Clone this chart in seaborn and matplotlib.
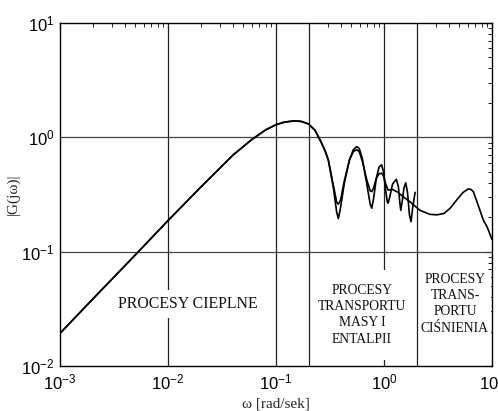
import numpy as np
import pandas as pd
import matplotlib
matplotlib.use("Agg")
import matplotlib.pyplot as plt
import seaborn as sns

# ---- data ----
# common low-frequency part (both curves coincide)
freq_common = [0.001, 0.002, 0.005, 0.01, 0.02, 0.04, 0.06, 0.08, 0.1, 0.12,
               0.145, 0.17, 0.2, 0.23, 0.26, 0.285, 0.305]
mag_common = [0.0193, 0.0383, 0.094, 0.187, 0.365, 0.70, 0.96, 1.16, 1.29, 1.36,
              1.39, 1.38, 1.31, 1.15, 0.92, 0.76, 0.634]

# strongly oscillating curve (ends near 2 rad/s)
freq_a = [0.34, 0.365, 0.378, 0.395, 0.43, 0.48, 0.52, 0.558, 0.59, 0.63, 0.69,
          0.745, 0.77, 0.80, 0.85, 0.90, 0.95, 0.99, 1.03, 1.07, 1.09, 1.13,
          1.2, 1.30, 1.36, 1.40, 1.43, 1.47, 1.53, 1.59, 1.65, 1.72, 1.78,
          1.84, 1.94]
mag_a = [0.36, 0.22, 0.195, 0.24, 0.40, 0.64, 0.78, 0.83, 0.80, 0.65, 0.40,
         0.26, 0.24, 0.29, 0.44, 0.55, 0.575, 0.50, 0.36, 0.275, 0.265, 0.30,
         0.39, 0.43, 0.37, 0.27, 0.23, 0.27, 0.36, 0.40, 0.33, 0.21, 0.183,
         0.24, 0.33]

# damped curve (continues to 10 rad/s)
freq_b = [0.34, 0.365, 0.378, 0.395, 0.43, 0.48, 0.52, 0.558, 0.59, 0.63, 0.69,
          0.745, 0.77, 0.80, 0.85, 0.90, 0.95, 0.99, 1.03, 1.09, 1.2, 1.35,
          1.50, 1.75, 2.15, 2.66, 3.1, 3.6, 4.1, 4.71, 5.4, 6.04, 6.4, 6.72,
          7.5, 8.31, 9.0, 10.0]
mag_b = [0.38, 0.27, 0.26, 0.28, 0.42, 0.64, 0.75, 0.78, 0.75, 0.62, 0.43,
         0.34, 0.335, 0.36, 0.44, 0.48, 0.485, 0.46, 0.40, 0.346, 0.35, 0.33,
         0.303, 0.272, 0.23, 0.212, 0.21, 0.216, 0.24, 0.283, 0.33, 0.354,
         0.35, 0.335, 0.25, 0.189, 0.165, 0.128]

region_labels = ["PROCESY CIEPLNE",
                 "PROCESY\nTRANSPORTU\nMASY I\nENTALPII",
                 "PROCESY\nTRANS-\nPORTU\nCIŚNIENIA"]
region_label_pos = [(0.0153, 0.0348), (0.625, 0.0281), (4.54, 0.0350)]
region_bounds = [0.2, 2.0]

df = pd.concat([
    pd.DataFrame({"w": freq_common + freq_a, "G": mag_common + mag_a, "s": "a"}),
    pd.DataFrame({"w": freq_common + freq_b, "G": mag_common + mag_b, "s": "b"}),
])

sns.set_theme(style="white")
plt.rcParams["font.family"] = ["Liberation Sans", "DejaVu Sans"]
plt.rcParams["xtick.direction"] = "in"
plt.rcParams["ytick.direction"] = "in"

fig = plt.figure(figsize=(4.98, 4.11), dpi=100)
ax = fig.add_axes([60 / 498, 1 - 366 / 411, 432 / 498, 343 / 411])

sns.lineplot(data=df, x="w", y="G", units="s", estimator=None, sort=False,
             color="black", lw=1.2, ax=ax, legend=False, zorder=3)

ax.set_xscale("log")
ax.set_yscale("log")
ax.set_xlim(1e-3, 10)
ax.set_ylim(1e-2, 10)

# grid (behind text boxes)
for gx in [1e-2, 1e-1, 1e0]:
    ax.axvline(gx, color="#222222", lw=0.9, zorder=1)
for gy in [1e-1, 1e0]:
    ax.axhline(gy, color="#444444", lw=0.9, zorder=1)
# region separators (on top)
for b in region_bounds:
    ax.axvline(b, color="#222222", lw=0.9, zorder=6)

label_styles = [dict(fontsize=11.4, pad=4.5, ls=1.05),
                dict(fontsize=9.8, pad=10, ls=1.33),
                dict(fontsize=9.8, pad=1.5, ls=1.33)]
serif = ["Liberation Serif", "DejaVu Serif"]
for lab, (tx, ty), st in zip(region_labels, region_label_pos, label_styles):
    ax.text(tx, ty, lab, ha="center", va="center", multialignment="center",
            family=serif, fontsize=st["fontsize"],
            linespacing=st["ls"], color="#111111", zorder=2,
            bbox=dict(facecolor="white", edgecolor="none", pad=st["pad"]))

ax.tick_params(which="both", top=True, right=True, direction="in",
               colors="black", labelsize=12)
ax.tick_params(axis="x", which="major", pad=5)
ax.tick_params(axis="y", which="major", pad=4)
ax.tick_params(which="major", length=5, width=0.8)
ax.tick_params(which="minor", length=3, width=0.6)
ax.xaxis.set_minor_locator(matplotlib.ticker.LogLocator(base=10, subs=np.arange(2, 10)))
ax.yaxis.set_minor_locator(matplotlib.ticker.LogLocator(base=10, subs=np.arange(2, 10)))
ax.xaxis.set_minor_formatter(matplotlib.ticker.NullFormatter())
ax.yaxis.set_minor_formatter(matplotlib.ticker.NullFormatter())

for sp in ax.spines.values():
    sp.set_color("black")
    sp.set_linewidth(1.0)

ax.set_xlabel("ω [rad/sek]", family=serif, fontsize=11, labelpad=3)
ax.set_ylabel("|G(jω)|", family=serif, fontsize=11, labelpad=1)

fig.savefig("out.png", dpi=100)
